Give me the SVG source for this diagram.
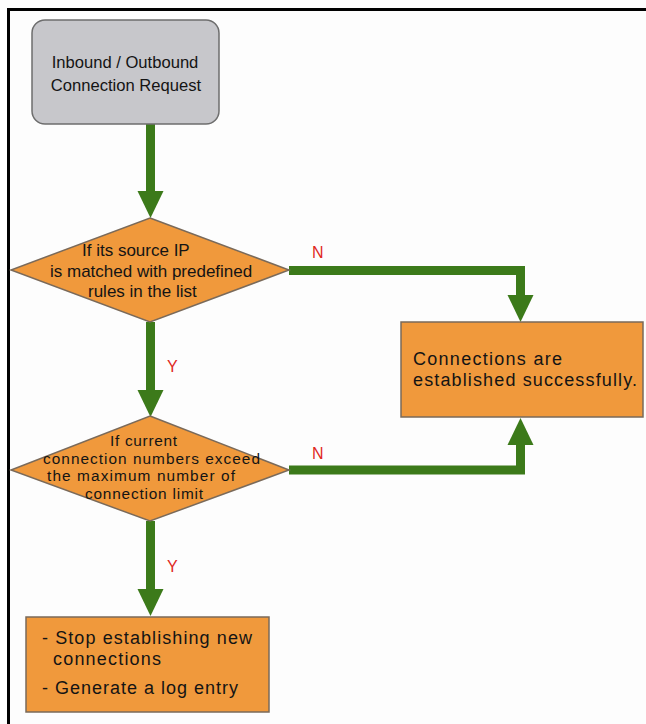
<svg xmlns="http://www.w3.org/2000/svg" width="646" height="724" viewBox="0 0 646 724">
<defs>
<style>
.bg{fill:#fdfdfd}
.frame{fill:#000}
.start{fill:#c7c7cb;stroke:#6e6e6e;stroke-width:1.5}
.orange{fill:#f0993c;stroke:#7a6a5a;stroke-width:1.5}
.t{font-family:"Liberation Sans",Arial,sans-serif;fill:#141414}
.lbl{font-family:"Liberation Sans",Arial,sans-serif;fill:#e0281e;font-size:16px}
.conn{fill:none;stroke:#3c7a1a;stroke-width:9;stroke-linejoin:miter}
</style>
<marker id="ah" markerUnits="userSpaceOnUse" markerWidth="28" markerHeight="28" refX="0" refY="13" orient="auto" overflow="visible">
<path d="M0,0 L27,13 L0,26 Z" fill="#3c7a1a"/>
</marker>
</defs>
<rect class="bg" x="0" y="0" width="646" height="724"/>
<rect class="frame" x="7" y="8" width="639" height="3"/>
<rect class="frame" x="7" y="8" width="3" height="716"/>

<g id="connectors">
<path class="conn" d="M150.5,124 V191" marker-end="url(#ah)"/>
<path class="conn" d="M150.5,322 V390" marker-end="url(#ah)"/>
<path class="conn" d="M150.5,521 V589" marker-end="url(#ah)"/>
<path class="conn" d="M289,270.5 H520.5 V295" marker-end="url(#ah)"/>
<path class="conn" d="M289,470 H520.5 V445" marker-end="url(#ah)"/>
<text class="lbl" x="312" y="258">N</text>
<text class="lbl" x="312" y="459">N</text>
<text class="lbl" x="167" y="372">Y</text>
<text class="lbl" x="167" y="572">Y</text>
</g>

<g id="start">
<rect class="start" x="32" y="20" width="187" height="104" rx="13" ry="13"/>
<text class="t" font-size="16.6" text-anchor="middle" x="125" y="68">Inbound / Outbound</text>
<text class="t" font-size="16.6" text-anchor="middle" x="126" y="91">Connection Request</text>
</g>

<g id="decision1">
<polygon class="orange" points="150,218 289,270 150,322 11,270"/>
<text class="t" font-size="17">
<tspan x="82" y="256">If its source IP</tspan>
<tspan x="50" y="277">is matched with predefined</tspan>
<tspan x="88" y="297">rules in the list</tspan>
</text>
</g>

<g id="decision2">
<polygon class="orange" points="150,416 289,470 150,521 11,470"/>
<text class="t" font-size="15.4" x="110" y="446" textLength="67" lengthAdjust="spacing">If current</text>
<text class="t" font-size="15.4" x="43" y="463.5" textLength="217" lengthAdjust="spacing">connection numbers exceed</text>
<text class="t" font-size="15.4" x="47" y="481" textLength="188" lengthAdjust="spacing">the maximum number of</text>
<text class="t" font-size="15.4" x="85" y="498.5" textLength="118" lengthAdjust="spacing">connection limit</text>
</g>

<g id="success">
<rect class="orange" x="401" y="322" width="242" height="95"/>
<text class="t" font-size="18" x="413" y="365" textLength="149" lengthAdjust="spacing">Connections are</text>
<text class="t" font-size="18" x="413" y="385.5" textLength="224" lengthAdjust="spacing">established successfully.</text>
</g>

<g id="block">
<rect class="orange" x="26" y="617" width="243" height="95"/>
<text class="t" font-size="18" x="42" y="644" textLength="210" lengthAdjust="spacing">- Stop establishing new</text>
<text class="t" font-size="18" x="53" y="664.5" textLength="108" lengthAdjust="spacing">connections</text>
<text class="t" font-size="18" x="42" y="694" textLength="196" lengthAdjust="spacing">- Generate a log entry</text>
</g>
</svg>
